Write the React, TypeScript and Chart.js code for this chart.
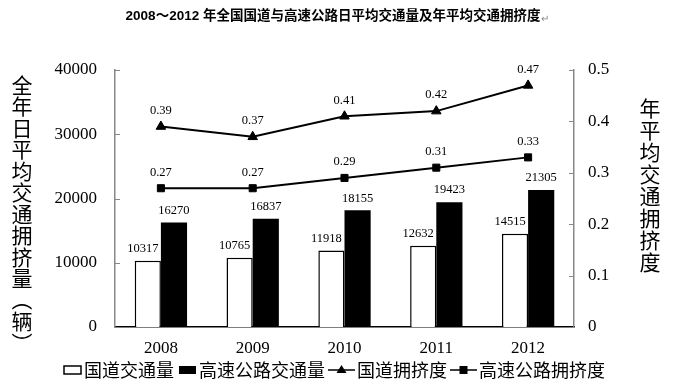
import React, { useEffect, useRef } from "react";
import { Chart, registerables } from "chart.js";
Chart.register(...registerables);

const TITLE = "2008～2012 年全国国道与高速公路日平均交通量及年平均交通拥挤度";
const YEARS = ["2008", "2009", "2010", "2011", "2012"];
const NATIONAL_VOLUME = [10317, 10765, 11918, 12632, 14515];
const HIGHWAY_VOLUME = [16270, 16837, 18155, 19423, 21305];
const NATIONAL_CONGESTION = [0.39, 0.37, 0.41, 0.42, 0.47];
const HIGHWAY_CONGESTION = [0.27, 0.27, 0.29, 0.31, 0.33];
const LEFT_MAX = 40000;
const LEFT_STEP = 10000;
const RIGHT_MAX = 0.5;
const RIGHT_STEP = 0.1;
const LEFT_TITLE = "全年日平均交通拥挤量（辆）";
const RIGHT_TITLE = "年平均交通拥挤度";
const LEGEND_LABELS = ["国道交通量", "高速公路交通量", "国道拥挤度", "高速公路拥挤度"];

const SERIF = '"Liberation Serif", "DejaVu Serif", serif';
const CJK = '"Noto Sans CJK SC", "Noto Sans", sans-serif';

const drawVertical = (ctx: CanvasRenderingContext2D, text: string, x: number, y0: number, pitch: number) => {
  ctx.textAlign = "center";
  ctx.textBaseline = "middle";
  Array.from(text).forEach((ch, i) => {
    const y = y0 + i * pitch;
    if (ch === "（" || ch === "）") {
      ctx.save();
      ctx.translate(x, y);
      ctx.rotate(Math.PI / 2);
      ctx.fillText(ch, 0, 0);
      ctx.restore();
    } else {
      ctx.fillText(ch, x, y);
    }
  });
};

const overlay = {
  id: "overlay",
  afterDraw(chart: any) {
    const ctx: CanvasRenderingContext2D = chart.ctx;
    const { left, right } = chart.chartArea;
    ctx.save();
    ctx.fillStyle = "#000";

    // title
    ctx.font = `bold 13.5px "Liberation Sans", ${CJK}`;
    ctx.textAlign = "center";
    ctx.textBaseline = "middle";
    ctx.fillText(TITLE, 333, 16);
    const tw = ctx.measureText(TITLE).width;
    ctx.fillStyle = "#888";
    ctx.font = `10px ${CJK}`;
    ctx.textAlign = "left";
    ctx.fillText("↵", 333 + tw / 2 + 1, 18);
    ctx.fillStyle = "#000";

    // axis titles
    ctx.font = `21px ${CJK}`;
    drawVertical(ctx, LEFT_TITLE, 22, 85, 21.5);
    drawVertical(ctx, RIGHT_TITLE, 650, 108, 22);

    // inward ticks
    const ys = chart.scales.y;
    const yr = chart.scales.y1;
    ctx.strokeStyle = "#888";
    ctx.lineWidth = 1;
    for (let v = 0; v <= LEFT_MAX; v += LEFT_STEP) {
      const p = Math.round(ys.getPixelForValue(v)) + 0.5;
      ctx.beginPath();
      ctx.moveTo(left, p);
      ctx.lineTo(left + 5, p);
      ctx.stroke();
    }
    for (let i = 0; i <= Math.round(RIGHT_MAX / RIGHT_STEP); i++) {
      const p = Math.round(yr.getPixelForValue(i * RIGHT_STEP)) + 0.5;
      ctx.beginPath();
      ctx.moveTo(right, p);
      ctx.lineTo(right - 5, p);
      ctx.stroke();
    }

    // data labels
    ctx.fillStyle = "#000";
    ctx.font = `12.5px ${SERIF}`;
    ctx.textAlign = "center";
    ctx.textBaseline = "middle";
    chart.data.datasets.forEach((ds: any, di: number) => {
      const meta = chart.getDatasetMeta(di);
      meta.data.forEach((el: any, i: number) => {
        const v = ds.data[i];
        if (ds.type === "bar") {
          const dx = di === 2 ? -5 : 0;
          ctx.fillText(String(v), el.x + dx, el.y - 12);
        } else {
          ctx.fillText(v.toFixed(2), el.x, el.y - 16);
        }
      });
    });

    // legend
    const ly = 370;
    ctx.font = `18px ${CJK}`;
    ctx.textAlign = "left";
    ctx.textBaseline = "middle";
    let x = 64;
    ctx.strokeStyle = "#000";
    ctx.lineWidth = 1.5;
    ctx.fillStyle = "#fff";
    ctx.fillRect(x, ly - 4, 17, 8);
    ctx.strokeRect(x, ly - 4, 17, 8);
    x += 20;
    ctx.fillStyle = "#000";
    ctx.fillText(LEGEND_LABELS[0], x, ly);
    x += ctx.measureText(LEGEND_LABELS[0]).width + 5;
    ctx.fillRect(x, ly - 4, 17, 8);
    x += 20;
    ctx.fillText(LEGEND_LABELS[1], x, ly);
    x += ctx.measureText(LEGEND_LABELS[1]).width + 3;
    ctx.lineWidth = 1.5;
    ctx.beginPath();
    ctx.moveTo(x, ly);
    ctx.lineTo(x + 27, ly);
    ctx.stroke();
    ctx.beginPath();
    ctx.moveTo(x + 13.5, ly - 5);
    ctx.lineTo(x + 18.5, ly + 3);
    ctx.lineTo(x + 8.5, ly + 3);
    ctx.closePath();
    ctx.fill();
    x += 29;
    ctx.fillText(LEGEND_LABELS[2], x, ly);
    x += ctx.measureText(LEGEND_LABELS[2]).width + 3;
    ctx.beginPath();
    ctx.moveTo(x, ly);
    ctx.lineTo(x + 27, ly);
    ctx.stroke();
    ctx.fillRect(x + 9.5, ly - 4, 8, 8);
    x += 29;
    ctx.fillText(LEGEND_LABELS[3], x, ly);

    ctx.restore();
  },
};

export default function App() {
  const ref = useRef<HTMLCanvasElement | null>(null);
  useEffect(() => {
    document.body.style.margin = "0";
    const canvas = ref.current!;
    const chart = new Chart(canvas, {
      type: "bar",
      data: {
        labels: YEARS,
        datasets: [
          {
            type: "line",
            label: LEGEND_LABELS[2],
            data: NATIONAL_CONGESTION,
            yAxisID: "y1",
            borderColor: "#000",
            backgroundColor: "#000",
            borderWidth: 2,
            pointStyle: "triangle",
            pointRadius: 5.5,
            pointBorderWidth: 1,
            order: 0,
          } as any,
          {
            type: "line",
            label: LEGEND_LABELS[3],
            data: HIGHWAY_CONGESTION,
            yAxisID: "y1",
            borderColor: "#000",
            backgroundColor: "#000",
            borderWidth: 2,
            pointStyle: "rect",
            pointRadius: 5,
            pointBorderWidth: 1,
            order: 0,
          } as any,
          {
            type: "bar",
            label: LEGEND_LABELS[0],
            data: NATIONAL_VOLUME,
            yAxisID: "y",
            backgroundColor: "#fff",
            borderColor: "#000",
            borderWidth: 1.5,
            categoryPercentage: 0.57,
            barPercentage: 1,
            order: 1,
          } as any,
          {
            type: "bar",
            label: LEGEND_LABELS[1],
            data: HIGHWAY_VOLUME,
            yAxisID: "y",
            backgroundColor: "#000",
            borderColor: "#000",
            borderWidth: 0,
            categoryPercentage: 0.57,
            barPercentage: 1,
            order: 1,
          } as any,
        ],
      },
      options: {
        animation: false,
        responsive: false,
        maintainAspectRatio: false,
        devicePixelRatio: 1,
        layout: { padding: { top: 70, left: 0, right: 0, bottom: 0 } },
        plugins: {
          legend: { display: false },
          title: { display: false },
          tooltip: { enabled: false },
        },
        scales: {
          x: {
            grid: { display: false },
            border: { display: true, color: "#000", width: 1.5 },
            ticks: { color: "#000", font: { family: SERIF, size: 17 }, padding: 3 },
            afterFit: (s: any) => { s.height = 61; },
          },
          y: {
            position: "left",
            min: 0,
            max: LEFT_MAX,
            grid: { display: false, drawTicks: false },
            border: { display: true, color: "#888", width: 1.5 },
            ticks: {
              stepSize: LEFT_STEP,
              color: "#000",
              font: { family: SERIF, size: 17 },
              padding: 18,
              callback: (v: any) => String(v),
            },
            afterFit: (s: any) => { s.width = 115; },
          },
          y1: {
            position: "right",
            min: 0,
            max: RIGHT_MAX,
            grid: { display: false, drawTicks: false },
            border: { display: true, color: "#888", width: 1.5 },
            ticks: {
              stepSize: RIGHT_STEP,
              color: "#000",
              font: { family: SERIF, size: 17 },
              padding: 14,
              callback: (v: any) => (Number(v) === 0 ? "0" : Number(v).toFixed(1)),
            },
            afterFit: (s: any) => { s.width = 99; },
          },
        },
      },
      plugins: [overlay],
    });
    return () => chart.destroy();
  }, []);
  return (
    <div style={{ width: 673, height: 388, background: "#fff" }}>
      <canvas ref={ref} width={673} height={388} style={{ display: "block" }} />
    </div>
  );
}
